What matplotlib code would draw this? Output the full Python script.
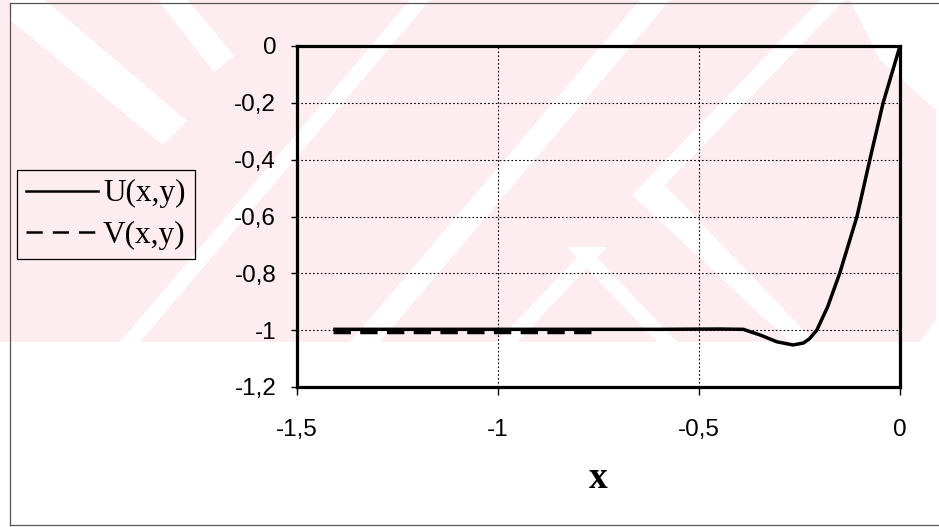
import matplotlib
matplotlib.use("Agg")
import matplotlib.pyplot as plt
from matplotlib.patches import Polygon, Rectangle
from matplotlib.lines import Line2D
from matplotlib.ticker import FuncFormatter, FixedLocator

# ---- data -------------------------------------------------------------
u_x = [-1.41, -1.2, -1.0, -0.8, -0.6, -0.45, -0.39, -0.348, -0.306, -0.266,
       -0.240, -0.225, -0.207, -0.180, -0.150, -0.107, -0.075, -0.042, 0.0]
u_y = [-0.997, -0.997, -0.997, -0.997, -0.997, -0.996, -0.997, -1.017, -1.041,
       -1.052, -1.045, -1.030, -1.0, -0.918, -0.80, -0.60, -0.40, -0.20, 0.0]

v_x = [-1.41, -0.76]
v_y = [-1.005, -1.005]

x_ticks = [-1.5, -1.0, -0.5, 0.0]
y_ticks = [0.0, -0.2, -0.4, -0.6, -0.8, -1.0, -1.2]
series_labels = ["U(x,y)", "V(x,y)"]
x_label = "x"

# ---- figure -----------------------------------------------------------
W, H = 939, 527
fig = plt.figure(figsize=(W / 100, H / 100), dpi=100)
fig.patch.set_facecolor("white")

# background layer in pixel coordinates (y downwards)
bg = fig.add_axes([0, 0, 1, 1], zorder=0)
bg.set_xlim(0, W)
bg.set_ylim(H, 0)
bg.axis("off")

pink = "#fdedf0"
bg.add_patch(Rectangle((0, 0), 936, 342, facecolor=pink, edgecolor="none"))

white_shapes = [
    [(10, 0), (45, 0), (187, 121), (163, 145), (10, 20)],
    [(158, 0), (188, 0), (234, 56), (214, 72)],
    [(120, 342), (140, 342), (430, 0), (410, 0)],
    [(350, 342), (380, 342), (670, 0), (640, 0)],
    [(587, 247), (607, 247), (517, 342), (497, 342)],
    [(587, 247), (567, 247), (657, 342), (677, 342)],
    [(632, 195), (655, 195), (845, 0), (820, 0)],
    [(632, 195), (655, 175), (815, 342), (790, 342)],
    [(850, 0), (936, 0), (936, 110), (880, 60)],
    [(920, 342), (936, 342), (936, 320)],
]
for pts in white_shapes:
    bg.add_patch(Polygon(pts, closed=True, facecolor="white", edgecolor="none"))

# thin frame around the chart area
frame_kw = dict(color="#555555", lw=0.9)
bg.add_line(Line2D([10, 10], [3, 525], **frame_kw))
bg.add_line(Line2D([10, 938], [3, 3], **frame_kw))
bg.add_line(Line2D([10, 938], [525, 525], **frame_kw))

# ---- plot area --------------------------------------------------------
ax = fig.add_axes([297 / W, 1 - 387 / H, (900 - 297) / W, (387 - 46) / H], zorder=1)
ax.patch.set_alpha(0)

ax.plot(u_x, u_y, color="black", lw=2.5, solid_capstyle="butt", zorder=3)
ax.plot(v_x, v_y, color="black", lw=2.5, dashes=(5, 2.7), zorder=4)

ax.set_xlim(-1.5, 0.0)
ax.set_ylim(-1.2, 0.0)
ax.xaxis.set_major_locator(FixedLocator(x_ticks))
ax.yaxis.set_major_locator(FixedLocator(y_ticks))


def comma_fmt(v, _pos):
    if abs(v) < 1e-9:
        return "0"
    return f"{v:g}".replace(".", ",")


ax.xaxis.set_major_formatter(FuncFormatter(comma_fmt))
ax.yaxis.set_major_formatter(FuncFormatter(comma_fmt))

ax.grid(True, color="black", lw=0.8, linestyle=(0, (1.5, 2.0)))
for s in ax.spines.values():
    s.set_linewidth(2.3)
    s.set_color("black")

ax.tick_params(axis="y", direction="out", length=4, width=1, pad=11)
ax.tick_params(axis="x", direction="out", length=6, width=1, pad=17)
for lab in ax.get_xticklabels() + ax.get_yticklabels():
    lab.set_fontfamily("Liberation Sans")
    lab.set_fontsize(17.5)

fig.text(598 / W, 1 - 478 / H, x_label, ha="center", va="center",
         family="Liberation Serif", fontsize=27, fontweight="bold")

# ---- legend -----------------------------------------------------------
handles = [
    Line2D([], [], color="black", lw=1.8),
    Line2D([], [], color="black", lw=1.8, dashes=(6.5, 4.0)),
]
leg = fig.legend(handles, series_labels, loc="upper left",
                 bbox_to_anchor=(17 / W, 1 - 170 / H),
                 prop=dict(family="Liberation Serif", size=22.5),
                 frameon=True, fancybox=False, framealpha=1,
                 handlelength=2.3, handletextpad=0.15, borderpad=0.3,
                 labelspacing=0.4, borderaxespad=0.0)
leg.get_frame().set_facecolor("none")
leg.get_frame().set_edgecolor("black")
leg.get_frame().set_linewidth(0.9)

fig.savefig("out.png", dpi=100)
